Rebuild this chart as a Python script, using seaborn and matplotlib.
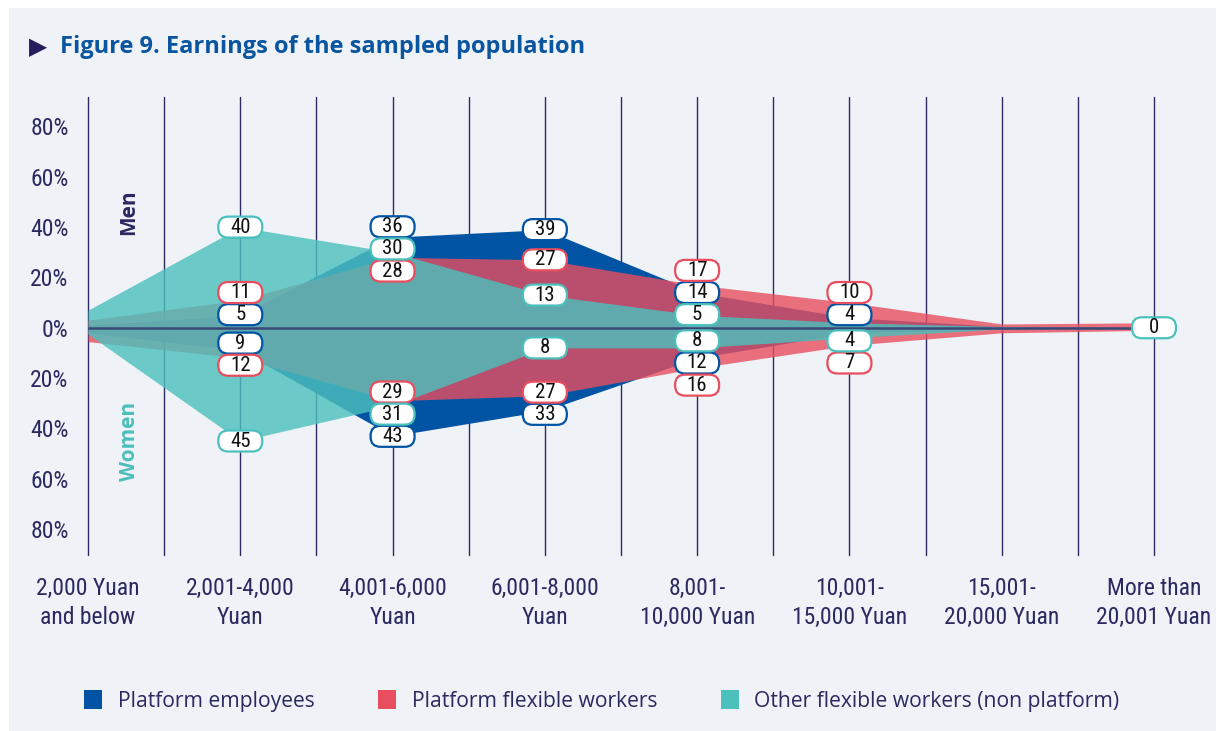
import numpy as np
import matplotlib
matplotlib.use("Agg")
import matplotlib.pyplot as plt
import matplotlib.transforms as mtransforms
from matplotlib.patches import FancyBboxPatch, Patch, Rectangle
import seaborn as sns

# ---------------- data ----------------
categories = ["2,000 Yuan\nand below", "2,001-4,000\nYuan", "4,001-6,000\nYuan",
              "6,001-8,000\nYuan", "8,001-\n10,000 Yuan", "10,001-\n15,000 Yuan",
              "15,001-\n20,000 Yuan", "More than\n20,001 Yuan"]
series_names = ["Platform employees", "Platform flexible workers",
                "Other flexible workers (non platform)"]

men_employees = [1, 5, 36, 39, 14, 4, 0.5, 0]
men_flexible = [3, 11, 28, 27, 17, 10, 1.5, 2]
men_other = [7, 40, 30, 13, 5, 2, 0.5, 0]

women_employees = [2, 9, 43, 33, 12, 2, 0.5, 0]
women_flexible = [5.5, 12, 29, 27, 16, 7, 2, 1]
women_other = [2.5, 45, 31, 8, 8, 4, 0.5, 0]

# which categories carry a value label
men_labelled = [[1, 2, 3, 4, 5], [1, 2, 3, 4, 5], [1, 2, 3, 4]]
women_labelled = [[1, 2, 3, 4], [1, 2, 3, 4, 5], [1, 2, 3, 4, 5]]
zero_label_cat = 7

yticks = [80, 60, 40, 20, 0, -20, -40, -60, -80]
ytick_labels = ["80%", "60%", "40%", "20%", "0%", "20%", "40%", "60%", "80%"]

# ---------------- style ----------------
colors = ["#0154a4", "#e84e5e", "#4cc0bd"]
alphas = [1.0, 0.8, 0.81]
navy = "#2a2960"
bg = "#eff3f7"

sns.set_theme(style="white")
cond = ["Roboto Condensed", "DejaVu Sans"]
plt.rcParams["font.family"] = cond

W, H = 1216, 731
fig = plt.figure(figsize=(W / 100, H / 100), dpi=100, facecolor="white")
fig.patches.append(Rectangle((9 / W, 0), 1, 1 - 8 / H, transform=fig.transFigure,
                             facecolor=bg, edgecolor="none", zorder=-10))

ax = fig.add_axes([88 / W, 1 - 555 / H, (1154 - 88) / W, (555 - 97) / H])
ax.set_facecolor("none")
for s in ax.spines.values():
    s.set_visible(False)

x = np.arange(len(categories))
ax.set_xlim(0, len(categories) - 1)
ax.set_ylim(-90.3, 91.7)

# vertical grid lines
for gx in np.arange(0, len(categories) - 0.5 + 0.01, 0.5):
    ax.axvline(gx, color="#2b2a63", lw=1.0, zorder=0, clip_on=False)

men = [men_employees, men_flexible, men_other]
women = [women_employees, women_flexible, women_other]

for i in range(3):
    ax.fill_between(x, 0, np.array(men[i]), color=colors[i], alpha=alphas[i],
                    lw=0, zorder=1 + i)
    ax.fill_between(x, 0, -np.array(women[i]), color=colors[i], alpha=alphas[i],
                    lw=0, zorder=1 + i)

sns.lineplot(x=[0, len(categories) - 1], y=[0, 0], ax=ax, color="#3a4878",
             lw=1.8, zorder=6)

# ---------------- value labels ----------------
def spread(vals, gap=8.8, floor=5.2):
    vals = np.asarray(vals, float)
    order = np.argsort(vals)
    p = vals[order].copy()
    for _ in range(300):
        p = np.maximum(p, floor)
        for k in range(len(p) - 1):
            d = p[k + 1] - p[k]
            if d < gap:
                sh = (gap - d) / 2
                p[k] -= sh
                p[k + 1] += sh
    p = np.maximum(p, floor)
    out = np.empty_like(p)
    out[order] = p
    return out


def draw_label(xc, yc, text, ec):
    tr = fig.dpi_scale_trans + mtransforms.ScaledTranslation(xc, yc, ax.transData)
    bw, bh = 0.44, 0.21
    box = FancyBboxPatch((-bw / 2, -bh / 2), bw, bh,
                         boxstyle="round,pad=0,rounding_size=0.1",
                         transform=tr, facecolor="white", edgecolor=ec,
                         lw=1.6, zorder=8, clip_on=False)
    ax.add_patch(box)
    ax.text(xc, yc, text, ha="center", va="center", fontsize=15, color="#111111",
            zorder=9, clip_on=False)


for c in range(len(categories)):
    for side, data, labelled, sign in [("m", men, men_labelled, 1),
                                       ("w", women, women_labelled, -1)]:
        items = [(data[i][c], i) for i in range(3) if c in labelled[i]]
        if not items:
            continue
        pos = spread([v for v, _ in items])
        for (v, i), p in zip(items, pos):
            draw_label(c, sign * p, f"{v:g}", colors[i])

draw_label(zero_label_cat, 0, f"{men_other[zero_label_cat]:g}", colors[2])

# ---------------- axes text ----------------
ax.set_yticks(yticks)
ax.set_yticklabels(ytick_labels, fontsize=17, color=navy)
ax.set_xticks(x)
ax.set_xticklabels(categories, fontsize=17, color=navy, linespacing=1.3)
ax.tick_params(axis="y", length=0, pad=14)
ax.tick_params(axis="x", length=0, pad=16)

ax.text(0.27, 46, "Men", rotation=90, ha="center", va="center", fontsize=15,
        fontweight="bold", color=navy, family=["Open Sans", "DejaVu Sans"], zorder=7)
ax.text(0.27, -45, "Women", rotation=90, ha="center", va="center", fontsize=15,
        fontweight="bold", color="#4bbfbc", family=["Open Sans", "DejaVu Sans"], zorder=7)

# title
fig.text(29 / W, 1 - 47 / H, "\u25B6", fontsize=17, color="#231f5c",
         ha="left", va="center", family=["DejaVu Sans"])
fig.text(60 / W, 1 - 47 / H, "Figure 9. Earnings of the sampled population",
         fontsize=17, fontweight="bold", color="#0a55a0", ha="left", va="center",
         family=["Open Sans", "DejaVu Sans"])

# legend
handles = [Patch(facecolor=colors[i], edgecolor="none", label=series_names[i]) for i in range(3)]
leg = fig.legend(handles=handles, loc="center left", bbox_to_anchor=(84 / W, 1 - 701 / H),
                 ncol=3, frameon=False, handlelength=0.87, handleheight=1.0,
                 handletextpad=0.72, columnspacing=3.0, borderaxespad=0, borderpad=0,
                 prop={"family": ["Open Sans", "DejaVu Sans"], "size": 15.25})
for t in leg.get_texts():
    t.set_color(navy)

fig.savefig("out.png", dpi=100, facecolor="white")
